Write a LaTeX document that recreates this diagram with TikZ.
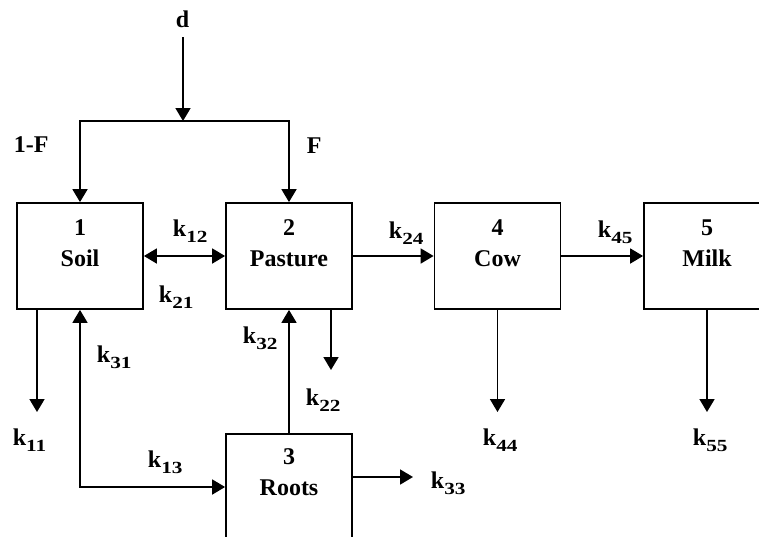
\documentclass[tikz,border=0pt]{standalone}
\usepackage{fontspec}
\setmainfont{Liberation Serif}
\usetikzlibrary{arrows.meta,calc}
\newcommand\kk[1]{k\raisebox{-6pt}{\scalebox{1.25}[1]{\fontsize{17}{17}\selectfont #1}}}
\begin{document}
\begin{tikzpicture}[x=1pt,y=-1pt,
  line width=1.8pt,
  box/.style={draw,rectangle,minimum width=126pt,minimum height=106pt,inner sep=0pt,line width=1.8pt},
  boxtext/.style={align=center,anchor=north,inner sep=0pt,font=\fontsize{24}{31}\selectfont\bfseries},
  lab/.style={anchor=base west,inner sep=0pt,font=\fontsize{24}{28}\selectfont\bfseries},
  arr/.style={-{Triangle[length=13pt,width=15pt]}},
  dbl/.style={{Triangle[length=13pt,width=15pt]}-{Triangle[length=13pt,width=15pt]}}]
\useasboundingbox (0,0) rectangle (759,536);
% boxes
\node[box] (soil) at (80,256) {};
\node[box] (pasture) at (289,256) {};
\node[box] (cow) at (497.5,256) {};
\node[box] (milk) at (707,256) {};
\node[box] (roots) at (289,487) {};
\node[boxtext] (tsoil) at ($(soil.north)+(0,17)$) {1\\Soil};
\node[boxtext] (tpasture) at ($(pasture.north)+(0,17)$) {2\\Pasture};
\node[boxtext] (tcow) at ($(cow.north)+(0,17)$) {4\\Cow};
\node[boxtext] (tmilk) at ($(milk.north)+(0,17)$) {5\\Milk};
\node[boxtext] (troots) at ($(roots.north)+(0,15)$) {3\\Roots};
% coordinates
\coordinate (dtop) at (183,37);
\coordinate (split) at (183,121);
\coordinate (e11) at (37,412);
\coordinate (corner) at (80,487);
\coordinate (e22) at (331,370);
\coordinate (e33) at (413,477);
\coordinate (e44) at (497.5,412);
\coordinate (e55) at (707,412);
% connectors
\draw[arr] (dtop) -- (split);
\draw[arr] (split) -| (soil.north);
\draw[arr] (split) -| (pasture.north);
\draw[dbl] (soil.east) -- (pasture.west);
\draw[arr] (pasture.east) -- (cow.west);
\draw[arr] (cow.east) -- (milk.west);
\draw[arr] (e11 |- soil.south) -- (e11);
\draw[dbl] (corner |- soil.south) -- (corner) -- (roots.west);
\draw[arr] (roots.north) -- (pasture.south);
\draw[arr] (e22 |- pasture.south) -- (e22);
\draw[arr] (e33 -| roots.east) -- (e33);
\draw[arr] (cow.south) -- (e44);
\draw[arr] (milk.south) -- (e55);
% labels
\node[lab] (ld) at (175,27) {d};
\node[lab] (l1f) at (13,152) {1-F};
\node[lab] (lf) at (306,153) {F};
\node[lab] (l12) at (172,236) {\kk{12}};
\node[lab] (l21) at (158,302) {\kk{21}};
\node[lab] (l24) at (388,238) {\kk{24}};
\node[lab] (l45) at (597,237) {\kk{45}};
\node[lab] (l31) at (96,362) {\kk{31}};
\node[lab] (l32) at (242,343) {\kk{32}};
\node[lab] (l22) at (305,405) {\kk{22}};
\node[lab] (l13) at (147,467) {\kk{13}};
\node[lab] (l11) at (12,445) {\kk{11}};
\node[lab] (l33) at (430,488) {\kk{33}};
\node[lab] (l44) at (482,445) {\kk{44}};
\node[lab] (l55) at (692,445) {\kk{55}};
\end{tikzpicture}
\end{document}
